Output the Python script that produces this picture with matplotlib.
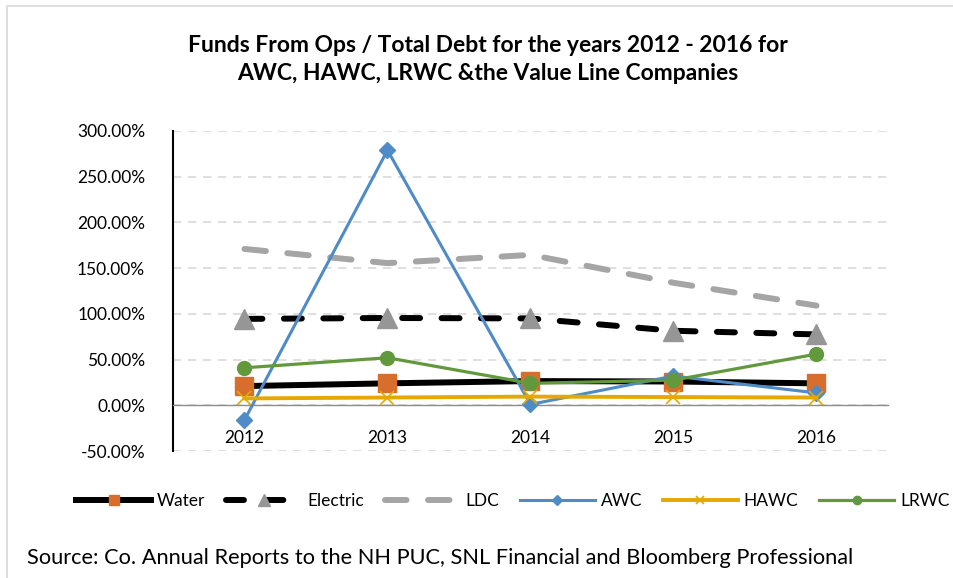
import numpy as np
import matplotlib
matplotlib.use("Agg")
import matplotlib.pyplot as plt
from matplotlib.patches import Rectangle
from matplotlib.ticker import FuncFormatter

plt.rcParams['font.family'] = ['Lato', 'DejaVu Sans']

# Datos (porcentajes)
years = ['2012', '2013', '2014', '2015', '2016']
water = [21.0, 24.0, 26.5, 26.0, 24.0]
electric = [94.5, 95.5, 95.0, 81.5, 77.5]
ldc = [171.0, 155.5, 164.5, 134.0, 109.0]
awc = [-16.0, 279.0, 1.0, 32.0, 13.5]
hawc = [7.5, 8.5, 9.5, 9.0, 8.5]
lrwc = [41.0, 52.0, 24.0, 27.5, 56.0]

W, H = 954, 578
fig = plt.figure(figsize=(W / 100, H / 100), dpi=100)

# borde exterior del gráfico
fig.patches.append(Rectangle((7 / W, -0.1), 1.2, 1.1 - 6 / H, transform=fig.transFigure,
                             fill=False, edgecolor='#d9d9d9', linewidth=1.2))

ax = fig.add_axes([173 / W, 1 - 451 / H, (888 - 173) / W, (451 - 131) / H])
x = np.arange(len(years))

ax.plot(x, water, color='black', linewidth=4.3, marker='s', markersize=13,
        markerfacecolor='#d86e2e', markeredgecolor='#d86e2e', label='Water', zorder=3)
ax.plot(x, electric, color='black', linewidth=4.3, linestyle=(0, (3.0, 3.6)),
        dash_capstyle='round', marker='^', markersize=14,
        markerfacecolor='#969696', markeredgecolor='#969696', label='Electric', zorder=3)
ax.plot(x, ldc, color='#a5a5a5', linewidth=4.3, linestyle=(0, (3.6, 3.6)),
        dash_capstyle='round', label='LDC', zorder=3)
ax.plot(x, awc, color='#4f8bc6', linewidth=2.2, marker='D', markersize=8,
        label='AWC', zorder=4)
ax.plot(x, hawc, color='#e6a800', linewidth=2.8, marker='x', markersize=10,
        markeredgewidth=1.2, label='HAWC', zorder=4)
ax.plot(x, lrwc, color='#63993d', linewidth=2.3, marker='o', markersize=10,
        label='LRWC', zorder=4)

ax.set_xlim(-0.5, len(years) - 0.5)
ax.set_ylim(-50, 300)
ax.set_yticks(np.arange(-50, 301, 50))
ax.yaxis.set_major_formatter(FuncFormatter(lambda v, p: f'{v:.2f}%'))
ax.grid(axis='y', color='#d9d9d9', linestyle=(0, (5, 4)), linewidth=1.2)
ax.set_axisbelow(True)

ax.set_xticks(x)
ax.set_xticklabels(years)
ax.spines['bottom'].set_position(('data', 0))
ax.spines['bottom'].set_color('#8c8c8c')
ax.spines['bottom'].set_linewidth(1.0)
ax.spines['left'].set_linewidth(1.5)
ax.spines['top'].set_visible(False)
ax.spines['right'].set_visible(False)
ax.tick_params(axis='x', length=0, pad=18, labelsize=12.5)
ax.tick_params(axis='y', length=0, pad=20, labelsize=12.5)

fig.text(488 / W, 1 - 45 / H, 'Funds From Ops / Total Debt for the years 2012 - 2016 for',
         ha='center', va='center', fontsize=16.5, fontweight='bold')
fig.text(488 / W, 1 - 74 / H, 'AWC, HAWC, LRWC &the Value Line Companies',
         ha='center', va='center', fontsize=16.5, fontweight='bold')

fig.legend(loc='center', bbox_to_anchor=(513 / W, 1 - 501 / H), ncol=6, frameon=False,
           fontsize=12.5, handlelength=4.3, handletextpad=0.35, columnspacing=1.2,
           markerscale=0.6)

fig.text(27 / W, 1 - 558 / H,
         'Source: Co. Annual Reports to the NH PUC, SNL Financial and Bloomberg Professional',
         ha='left', va='center', fontsize=15.7)

fig.savefig('out.png', dpi=100)
